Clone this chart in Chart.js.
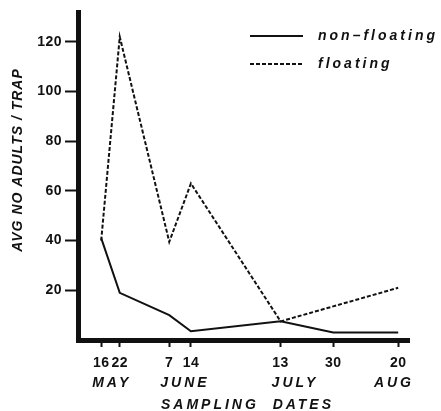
<!DOCTYPE html>
<html>
<head>
<meta charset="utf-8">
<script src="https://cdn.jsdelivr.net/npm/chart.js@4/dist/chart.umd.min.js"></script>
<style>
  html, body { margin: 0; padding: 0; background: #fff; }
  #wrap { width: 441px; height: 411px; }
</style>
</head>
<body>
<div id="wrap"><canvas id="chart_1" width="441" height="411"></canvas></div>
<script>
// sampling dates as day of year
const sampleDays = [136, 142, 158, 165, 194, 211, 232];
const dayLabels = ['16', '22', '7', '14', '13', '30', '20'];
const monthOf = ['MAY', 'MAY', 'JUNE', 'JUNE', 'JULY', 'JULY', 'AUG'];

// avg no adults / trap
const nonFloating = [41, 19, 10, 3.5, 7.5, 3, 3];
const floating = [40, 122, 39.5, 63, 7.5, null, 21];

const yTicks = [20, 40, 60, 80, 100, 120];

const ink = '#111';
const labelFont = 'italic bold 14px "Liberation Sans", Arial, sans-serif';

function pts(values) {
    return sampleDays.map((d, i) => ({ x: d, y: values[i] }));
}

// legend, month names and axis titles drawn in the paper's spaced lettering
const paperText = {
    id: 'paperText',
    beforeDraw(chart) {
        chart.ctx.letterSpacing = '0.5px';
    },
    afterDraw(chart) {
        const ctx = chart.ctx;
        const xs = chart.scales.x;
        const area = chart.chartArea;
        ctx.save();
        ctx.fillStyle = ink;
        ctx.strokeStyle = ink;
        ctx.font = labelFont;
        ctx.textBaseline = 'middle';

        // month names under the day numbers
        ctx.letterSpacing = '3px';
        ctx.textAlign = 'left';
        const seen = [];
        monthOf.forEach((m, i) => {
            if (seen.includes(m)) return;
            seen.push(m);
            const w = ctx.measureText(m).width;
            const left = Math.min(xs.getPixelForValue(sampleDays[i]) - 9, area.right + 5 - w);
            ctx.fillText(m, left, 383);
        });

        // x title
        ctx.textAlign = 'center';
        ctx.fillText('SAMPLING  DATES', (area.left + area.right) / 2 + 4, 405);

        // y title
        ctx.save();
        ctx.letterSpacing = '1px';
        ctx.translate(18, 160);
        ctx.rotate(-Math.PI / 2);
        ctx.fillText('AVG NO ADULTS / TRAP', 0, 0);
        ctx.restore();

        // legend
        const items = [
            { text: 'non\u2013floating', dash: [], y: 36 },
            { text: 'floating', dash: [4, 2], y: 64 }
        ];
        ctx.letterSpacing = '3px';
        ctx.textAlign = 'left';
        items.forEach((it) => {
            ctx.lineWidth = 2;
            ctx.setLineDash(it.dash);
            ctx.beginPath();
            ctx.moveTo(250, it.y);
            ctx.lineTo(303, it.y);
            ctx.stroke();
            ctx.setLineDash([]);
            ctx.fillText(it.text, 318, it.y);
        });
        ctx.restore();
    }
};

const config = {
    type: 'line',
    data: {
        datasets: [
            {
                label: 'non-floating',
                data: pts(nonFloating),
                borderColor: ink,
                borderWidth: 2,
                pointRadius: 0,
                tension: 0
            },
            {
                label: 'floating',
                data: pts(floating),
                borderColor: ink,
                borderWidth: 2,
                borderDash: [4, 2],
                pointRadius: 0,
                spanGaps: true,
                tension: 0
            }
        ]
    },
    options: {
        responsive: false,
        animation: false,
        devicePixelRatio: 1,
        layout: { padding: { top: 12, right: 32, left: 0, bottom: 0 } },
        plugins: {
            legend: { display: false },
            tooltip: { enabled: false }
        },
        scales: {
            x: {
                type: 'linear',
                min: 128.5,
                max: 235.5,
                afterBuildTicks(scale) {
                    scale.ticks = sampleDays.map((d) => ({ value: d }));
                },
                afterFit(scale) { scale.height = 71; },
                border: { display: true, color: ink, width: 5 },
                grid: {
                    drawOnChartArea: false,
                    drawTicks: true,
                    tickLength: 7,
                    tickWidth: 2,
                    tickColor: ink
                },
                ticks: {
                    autoSkip: false,
                    maxRotation: 0,
                    padding: 8,
                    color: ink,
                    font: { family: '"Liberation Sans", Arial, sans-serif', size: 14, weight: 'bold' },
                    callback(value) {
                        const i = sampleDays.indexOf(value);
                        return i >= 0 ? dayLabels[i] : '';
                    }
                }
            },
            y: {
                min: 0,
                max: 132,
                afterBuildTicks(scale) {
                    scale.ticks = yTicks.map((v) => ({ value: v }));
                },
                afterFit(scale) { scale.width = 78; },
                border: { display: true, color: ink, width: 5 },
                grid: {
                    drawOnChartArea: false,
                    drawTicks: true,
                    tickLength: 13,
                    tickWidth: 2,
                    tickColor: ink
                },
                ticks: {
                    padding: 3,
                    color: ink,
                    font: { family: '"Liberation Sans", Arial, sans-serif', size: 14, weight: 'bold' }
                }
            }
        }
    },
    plugins: [paperText]
};

new Chart(document.getElementById('chart_1'), config);
</script>
</body>
</html>
